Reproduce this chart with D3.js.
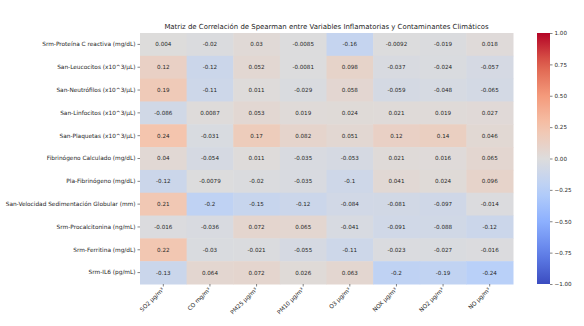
<!DOCTYPE html>
<html>
<head>
<meta charset="utf-8">
<script src="https://cdn.jsdelivr.net/npm/d3@7"></script>
<style>
  body { margin: 0; background: #fff; }
  text { font-family: "DejaVu Sans", sans-serif; fill: #262626; }
</style>
</head>
<body>
<div id="container"></div>
<script>
var rowLabels = [
  "Srm-Proteína C reactiva (mg/dL)",
  "San-Leucocitos (x10^3/µL)",
  "San-Neutrófilos (x10^3/µL)",
  "San-Linfocitos (x10^3/µL)",
  "San-Plaquetas (x10^3/µL)",
  "Fibrinógeno Calculado (mg/dL)",
  "Pla-Fibrinógeno (mg/dL)",
  "San-Velocidad Sedimentación Globular (mm)",
  "Srm-Procalcitonina (ng/mL)",
  "Srm-Ferritina (mg/dL)",
  "Srm-IL6 (pg/mL)"
];
var colLabels = ["SO2 µg/m³", "CO mg/m³", "PM25 µg/m³", "PM10 µg/m³", "O3 µg/m³", "NOX µg/m³", "NO2 µg/m³", "NO µg/m³"];
var values = [
  [0.004, -0.02, 0.03, -0.0085, -0.16, -0.0092, -0.019, 0.018],
  [0.12, -0.12, 0.052, -0.0081, 0.098, -0.037, -0.024, -0.057],
  [0.19, -0.11, 0.011, -0.029, 0.058, -0.059, -0.048, -0.065],
  [-0.086, 0.0087, 0.053, 0.019, 0.024, 0.021, 0.019, 0.027],
  [0.24, -0.031, 0.17, 0.082, 0.051, 0.12, 0.14, 0.046],
  [0.04, -0.054, 0.011, -0.035, -0.053, 0.021, 0.016, 0.065],
  [-0.12, -0.0079, -0.02, -0.035, -0.1, 0.041, 0.024, 0.096],
  [0.21, -0.2, -0.15, -0.12, -0.084, -0.081, -0.097, -0.014],
  [-0.016, -0.036, 0.072, 0.065, -0.041, -0.091, -0.088, -0.12],
  [0.22, -0.03, -0.021, -0.055, -0.11, -0.023, -0.027, -0.016],
  [-0.13, 0.064, 0.072, 0.026, 0.063, -0.2, -0.19, -0.24]
];
var cbarTicks = [-1, -0.75, -0.5, -0.25, 0, 0.25, 0.5, 0.75, 1];

var width = 584, height = 326;
var mLeft = 140, mRight = 513, mTop = 33, mBottom = 284;

// matplotlib coolwarm approximated by control points
var cw = ["#3b4cc0", "#6282ea", "#8db0fe", "#b8d0f9", "#dddcdc", "#f5c4ac", "#f49a7b", "#de604d", "#b40426"];
var color = d3.scaleLinear()
  .domain(d3.range(cw.length).map(function(i){ return -1 + 2 * i / (cw.length - 1); }))
  .range(cw)
  .interpolate(d3.interpolateRgb);

var svg = d3.select("#container").append("svg")
  .attr("width", width).attr("height", height);

var x = d3.scaleBand().domain(colLabels).range([mLeft, mRight]);
var y = d3.scaleBand().domain(rowLabels).range([mTop, mBottom]);

var cells = [];
values.forEach(function(row, i){
  row.forEach(function(v, j){
    cells.push({r: rowLabels[i], c: colLabels[j], v: v});
  });
});

svg.selectAll("rect.cell")
  .data(cells)
  .enter().append("rect")
  .attr("class", "cell")
  .attr("x", function(d){ return x(d.c); })
  .attr("y", function(d){ return y(d.r); })
  .attr("width", x.bandwidth() + 0.5)
  .attr("height", y.bandwidth() + 0.5)
  .attr("fill", function(d){ return color(d.v); });

svg.selectAll("text.val")
  .data(cells)
  .enter().append("text")
  .attr("class", "val")
  .attr("x", function(d){ return x(d.c) + x.bandwidth() / 2; })
  .attr("y", function(d){ return y(d.r) + y.bandwidth() / 2; })
  .attr("dy", "0.35em")
  .attr("text-anchor", "middle")
  .style("font-size", "5.6px")
  .text(function(d){ return String(d.v); });

// axes
var yAxis = svg.append("g")
  .attr("transform", "translate(" + mLeft + ",0)")
  .call(d3.axisLeft(y).tickSize(2.5).tickPadding(2));
yAxis.select(".domain").remove();
yAxis.selectAll("line").attr("stroke", "#333").attr("stroke-width", 0.6);
yAxis.selectAll("text").style("font-size", "5.8px").attr("fill", "#262626")
  .style("font-family", "DejaVu Sans, sans-serif");

var xAxis = svg.append("g")
  .attr("transform", "translate(0," + mBottom + ")")
  .call(d3.axisBottom(x).tickSize(2.5).tickPadding(2));
xAxis.select(".domain").remove();
xAxis.selectAll("line").attr("stroke", "#333").attr("stroke-width", 0.6);
xAxis.selectAll("text")
  .style("font-size", "5.8px").attr("fill", "#262626")
  .style("font-family", "DejaVu Sans, sans-serif")
  .attr("text-anchor", "end")
  .attr("dy", null)
  .attr("y", 0)
  .attr("transform", "translate(1,6) rotate(-45)");

// title
svg.append("text")
  .attr("x", (mLeft + mRight) / 2)
  .attr("y", 29)
  .attr("text-anchor", "middle")
  .style("font-size", "6.95px")
  .text("Matriz de Correlación de Spearman entre Variables Inflamatorias y Contaminantes Climáticos");

// colorbar
var cbX = 537, cbW = 13;
var defs = svg.append("defs");
var grad = defs.append("linearGradient").attr("id", "cbar")
  .attr("x1", 0).attr("y1", 1).attr("x2", 0).attr("y2", 0);
d3.range(0, 1.0001, 0.05).forEach(function(t){
  grad.append("stop").attr("offset", t).attr("stop-color", color(-1 + 2 * t));
});
svg.append("rect")
  .attr("x", cbX).attr("y", mTop)
  .attr("width", cbW).attr("height", mBottom - mTop)
  .attr("fill", "url(#cbar)");

var cy = d3.scaleLinear().domain([-1, 1]).range([mBottom, mTop]);
var cAxis = svg.append("g")
  .attr("transform", "translate(" + (cbX + cbW) + ",0)")
  .call(d3.axisRight(cy).tickValues(cbarTicks).tickSize(2.5).tickPadding(2)
    .tickFormat(function(d){ return d3.format(".2f")(d).replace("-", "\u2212"); }));
cAxis.select(".domain").remove();
cAxis.selectAll("line").attr("stroke", "#333").attr("stroke-width", 0.6);
cAxis.selectAll("text").style("font-size", "5.6px").attr("fill", "#262626")
  .style("font-family", "DejaVu Sans, sans-serif");
</script>
</body>
</html>
